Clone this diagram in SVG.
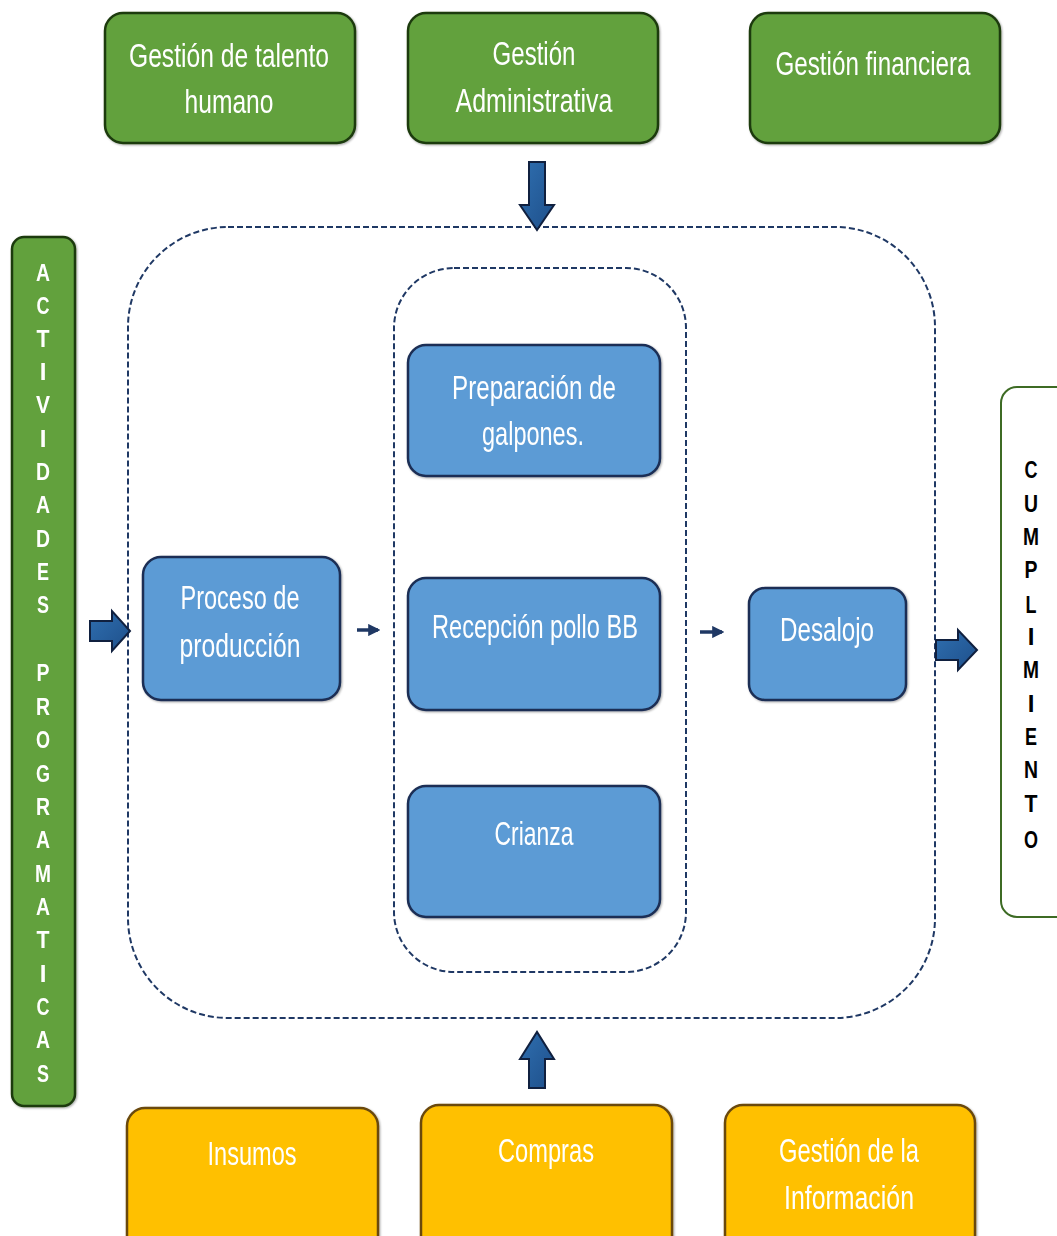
<svg xmlns="http://www.w3.org/2000/svg" width="1057" height="1236" viewBox="0 0 1057 1236">
  <style>
    .lbl { font-family: "Liberation Sans", Arial, sans-serif; font-size: 33px; fill: #ffffff; text-anchor: middle; }
    .vert { font-family: "Liberation Sans", Arial, sans-serif; font-size: 24px; font-weight: bold; text-anchor: middle; }
    .green { fill: #62a13d; stroke: #1e3a10; stroke-width: 2.5; }
    .blue { fill: #5b9bd5; stroke: #1b2f55; stroke-width: 2.5; }
    .yellow { fill: #ffc000; stroke: #6b4a10; stroke-width: 2.5; }
    .dash { fill: none; stroke: #1f3864; stroke-width: 2; stroke-dasharray: 6 3; }
    .block { fill: url(#arrowFill); stroke: #10203f; stroke-width: 2; }
    .thin { stroke: #1f3864; stroke-width: 3.5; fill: none; }
  </style>
  <defs>
    <linearGradient id="arrowFill" x1="0" y1="0" x2="1" y2="1">
      <stop offset="0" stop-color="#2f6fb0"/>
      <stop offset="1" stop-color="#1e4f8a"/>
    </linearGradient>
    <marker id="head" viewBox="0 0 10 10" refX="8" refY="5" markerWidth="3.5" markerHeight="3.5" orient="auto">
      <path d="M0 0 L10 5 L0 10 z" fill="#1f3864"/>
    </marker>
    <filter id="soft" x="-5%" y="-5%" width="110%" height="110%">
      <feDropShadow dx="1" dy="1" stdDeviation="1" flood-color="#000" flood-opacity="0.35"/>
    </filter>
  </defs>

  <rect width="1057" height="1236" fill="#ffffff"/>

  <!-- dashed containers -->
  <g id="containers">
    <rect class="dash" x="128" y="227" width="807" height="791" rx="100" ry="100"/>
    <rect class="dash" x="394" y="268" width="292" height="704" rx="60" ry="60"/>
  </g>

  <!-- connectors -->
  <g id="connectors">
    <path class="block" d="M529 162 H545 V205 H554 L537 230 L520 205 H529 Z"/>
    <path class="block" d="M529 1088 H545 V1059 H554 L537 1032 L520 1059 H529 Z"/>
    <path class="block" d="M90 621 H112 V611 L130 631 L112 651 V641 H90 Z"/>
    <path class="block" d="M936 640 H958 V630 L977 650 L958 670 V660 H936 Z"/>
    <line class="thin" x1="357" y1="630" x2="378" y2="630" marker-end="url(#head)"/>
    <line class="thin" x1="700" y1="632" x2="722" y2="632" marker-end="url(#head)"/>
  </g>

  <!-- top row -->
  <g id="talento" filter="url(#soft)">
    <rect class="green" x="105" y="13" width="250" height="130" rx="18"/>
    <text class="lbl" x="229" y="67" textLength="200" lengthAdjust="spacingAndGlyphs">Gestión de talento</text>
    <text class="lbl" x="229" y="113" textLength="89" lengthAdjust="spacingAndGlyphs">humano</text>
  </g>
  <g id="administrativa" filter="url(#soft)">
    <rect class="green" x="408" y="13" width="250" height="130" rx="18"/>
    <text class="lbl" x="534" y="65" textLength="83" lengthAdjust="spacingAndGlyphs">Gestión</text>
    <text class="lbl" x="534" y="112" textLength="157" lengthAdjust="spacingAndGlyphs">Administrativa</text>
  </g>
  <g id="financiera" filter="url(#soft)">
    <rect class="green" x="750" y="13" width="250" height="130" rx="18"/>
    <text class="lbl" x="873" y="75" textLength="195" lengthAdjust="spacingAndGlyphs">Gestión financiera</text>
  </g>

  <!-- left vertical label -->
  <g id="actividades" filter="url(#soft)">
    <rect class="green" x="12" y="237" width="63" height="869" rx="12"/>
    <g class="vert" fill="#ffffff">
      <text x="43" y="281" textLength="14" lengthAdjust="spacingAndGlyphs">A</text>
      <text x="43" y="314" textLength="13" lengthAdjust="spacingAndGlyphs">C</text>
      <text x="43" y="347" textLength="13" lengthAdjust="spacingAndGlyphs">T</text>
      <text x="43" y="380">I</text>
      <text x="43" y="413" textLength="14" lengthAdjust="spacingAndGlyphs">V</text>
      <text x="43" y="447">I</text>
      <text x="43" y="480" textLength="14" lengthAdjust="spacingAndGlyphs">D</text>
      <text x="43" y="513" textLength="14" lengthAdjust="spacingAndGlyphs">A</text>
      <text x="43" y="547" textLength="14" lengthAdjust="spacingAndGlyphs">D</text>
      <text x="43" y="580" textLength="12" lengthAdjust="spacingAndGlyphs">E</text>
      <text x="43" y="613" textLength="12" lengthAdjust="spacingAndGlyphs">S</text>
      <text x="43" y="681" textLength="13" lengthAdjust="spacingAndGlyphs">P</text>
      <text x="43" y="715" textLength="14" lengthAdjust="spacingAndGlyphs">R</text>
      <text x="43" y="748" textLength="14" lengthAdjust="spacingAndGlyphs">O</text>
      <text x="43" y="782" textLength="14" lengthAdjust="spacingAndGlyphs">G</text>
      <text x="43" y="815" textLength="14" lengthAdjust="spacingAndGlyphs">R</text>
      <text x="43" y="848" textLength="14" lengthAdjust="spacingAndGlyphs">A</text>
      <text x="43" y="882" textLength="16" lengthAdjust="spacingAndGlyphs">M</text>
      <text x="43" y="915" textLength="14" lengthAdjust="spacingAndGlyphs">A</text>
      <text x="43" y="948" textLength="13" lengthAdjust="spacingAndGlyphs">T</text>
      <text x="43" y="982">I</text>
      <text x="43" y="1015" textLength="13" lengthAdjust="spacingAndGlyphs">C</text>
      <text x="43" y="1048" textLength="14" lengthAdjust="spacingAndGlyphs">A</text>
      <text x="43" y="1082" textLength="12" lengthAdjust="spacingAndGlyphs">S</text>
    </g>
  </g>

  <!-- process nodes -->
  <g id="proceso" filter="url(#soft)">
    <rect class="blue" x="143" y="557" width="197" height="143" rx="18"/>
    <text class="lbl" x="240" y="609" textLength="119" lengthAdjust="spacingAndGlyphs">Proceso de</text>
    <text class="lbl" x="240" y="657" textLength="121" lengthAdjust="spacingAndGlyphs">producción</text>
  </g>
  <g id="preparacion" filter="url(#soft)">
    <rect class="blue" x="408" y="345" width="252" height="131" rx="18"/>
    <text class="lbl" x="534" y="399" textLength="164" lengthAdjust="spacingAndGlyphs">Preparación de</text>
    <text class="lbl" x="533" y="445" textLength="102" lengthAdjust="spacingAndGlyphs">galpones.</text>
  </g>
  <g id="recepcion" filter="url(#soft)">
    <rect class="blue" x="408" y="578" width="252" height="132" rx="18"/>
    <text class="lbl" x="535" y="638" textLength="206" lengthAdjust="spacingAndGlyphs">Recepción pollo BB</text>
  </g>
  <g id="crianza" filter="url(#soft)">
    <rect class="blue" x="408" y="786" width="252" height="131" rx="18"/>
    <text class="lbl" x="534" y="845" textLength="79" lengthAdjust="spacingAndGlyphs">Crianza</text>
  </g>
  <g id="desalojo" filter="url(#soft)">
    <rect class="blue" x="749" y="588" width="157" height="112" rx="16"/>
    <text class="lbl" x="827" y="641" textLength="94" lengthAdjust="spacingAndGlyphs">Desalojo</text>
  </g>

  <!-- right vertical label -->
  <g id="cumplimiento">
    <rect x="1001" y="387" width="70" height="530" rx="16" fill="#ffffff" stroke="#3d6b24" stroke-width="2"/>
    <g class="vert" fill="#000000" font-weight="normal">
      <text x="1031" y="478" textLength="13" lengthAdjust="spacingAndGlyphs">C</text>
      <text x="1031" y="512" textLength="14" lengthAdjust="spacingAndGlyphs">U</text>
      <text x="1031" y="545" textLength="16" lengthAdjust="spacingAndGlyphs">M</text>
      <text x="1031" y="578" textLength="13" lengthAdjust="spacingAndGlyphs">P</text>
      <text x="1031" y="613" textLength="11" lengthAdjust="spacingAndGlyphs">L</text>
      <text x="1031" y="645">I</text>
      <text x="1031" y="678" textLength="16" lengthAdjust="spacingAndGlyphs">M</text>
      <text x="1031" y="712">I</text>
      <text x="1031" y="745" textLength="12" lengthAdjust="spacingAndGlyphs">E</text>
      <text x="1031" y="778" textLength="14" lengthAdjust="spacingAndGlyphs">N</text>
      <text x="1031" y="812" textLength="13" lengthAdjust="spacingAndGlyphs">T</text>
      <text x="1031" y="848" textLength="14" lengthAdjust="spacingAndGlyphs">O</text>
    </g>
  </g>

  <!-- bottom row -->
  <g id="insumos" filter="url(#soft)">
    <rect class="yellow" x="127" y="1108" width="251" height="150" rx="18"/>
    <text class="lbl" x="252" y="1165" textLength="89" lengthAdjust="spacingAndGlyphs">Insumos</text>
  </g>
  <g id="compras" filter="url(#soft)">
    <rect class="yellow" x="421" y="1105" width="251" height="150" rx="18"/>
    <text class="lbl" x="546" y="1162" textLength="96" lengthAdjust="spacingAndGlyphs">Compras</text>
  </g>
  <g id="informacion" filter="url(#soft)">
    <rect class="yellow" x="725" y="1105" width="250" height="150" rx="18"/>
    <text class="lbl" x="849" y="1162" textLength="140" lengthAdjust="spacingAndGlyphs">Gestión de la</text>
    <text class="lbl" x="849" y="1209" textLength="130" lengthAdjust="spacingAndGlyphs">Información</text>
  </g>
</svg>
